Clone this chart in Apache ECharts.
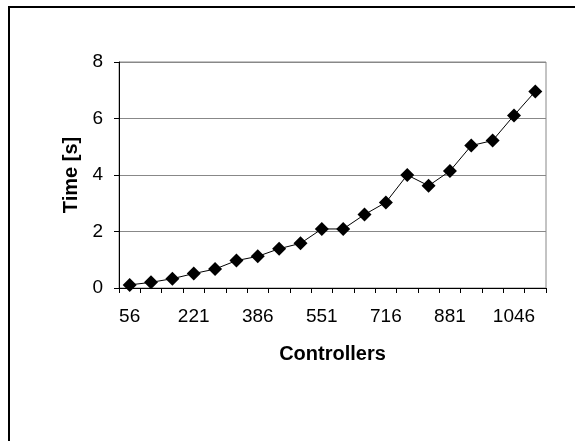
<!DOCTYPE html>
<html><head><meta charset="utf-8">
<script src="https://cdn.jsdelivr.net/npm/echarts@6/dist/echarts.min.js"></script>
<style>html,body{margin:0;padding:0;background:#fff}#c{width:575px;height:441px}</style>
</head><body><div id="c"></div>
<script>
const categories = ['56','111','166','221','276','331','386','441','496','551','606','661','716','771','826','881','936','991','1046','1101'];
const timeValues = [0.11,0.2,0.33,0.51,0.67,0.97,1.12,1.39,1.58,2.09,2.09,2.6,3.03,4.0,3.62,4.14,5.04,5.22,6.11,6.96];
const yTicks = [0,2,4,6,8];

const chart = echarts.init(document.getElementById('c'), null, {renderer:'canvas'});
const font = 'Arial, "Liberation Sans", sans-serif';
chart.setOption({
  animation:false,
  backgroundColor:'#fff',
  graphic:[{type:'rect',shape:{x:9,y:7,width:600,height:500},style:{fill:'none',stroke:'#000',lineWidth:2},z:-1}],
  grid:{left:119,right:29,top:62,bottom:153,show:true,borderColor:'#888',borderWidth:1,backgroundColor:'transparent'},
  xAxis:{type:'category',data:categories,boundaryGap:true,
    name:'Controllers',nameLocation:'middle',nameGap:56,
    nameTextStyle:{fontFamily:font,fontSize:20,fontWeight:'bold',color:'#000'},
    axisLine:{lineStyle:{color:'#000',width:1}},
    axisTick:{show:true,interval:0,length:5,inside:false,lineStyle:{color:'#000'}},
    axisLabel:{interval:2,margin:19,fontFamily:font,fontSize:19,color:'#000'},
    splitLine:{show:false}},
  yAxis:{type:'value',min:yTicks[0],max:yTicks[yTicks.length-1],interval:2,
    name:'Time [s]',nameLocation:'middle',nameGap:38,nameRotate:90,
    nameTextStyle:{fontFamily:font,fontSize:20,fontWeight:'bold',color:'#000'},
    axisLine:{show:true,lineStyle:{color:'#000',width:1}},
    axisTick:{show:true,length:5,lineStyle:{color:'#000'}},
    axisLabel:{margin:16,fontFamily:font,fontSize:19,color:'#000'},
    splitLine:{show:true,lineStyle:{color:'#888',width:1}}},
  series:[{type:'line',data:timeValues,symbol:'diamond',symbolSize:14,
    lineStyle:{color:'#000',width:1},itemStyle:{color:'#000'}}]
});
</script></body></html>
